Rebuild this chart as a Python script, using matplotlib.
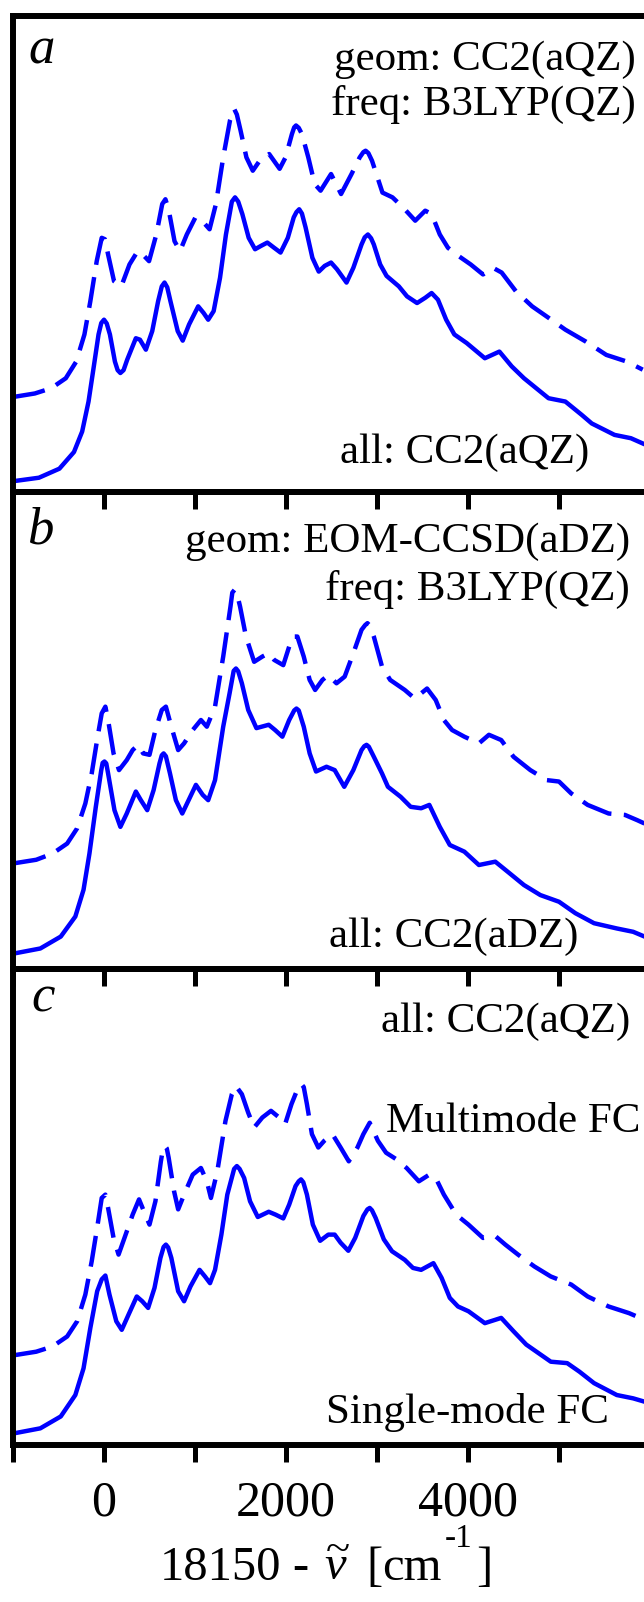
import matplotlib
matplotlib.use("Agg")
import matplotlib.pyplot as plt
from matplotlib.ticker import FixedLocator, FixedFormatter

plt.rcParams['font.family'] = ['Liberation Serif', 'DejaVu Serif']
plt.rcParams['mathtext.fontset'] = 'custom'
plt.rcParams['mathtext.rm'] = 'Liberation Serif'
plt.rcParams['mathtext.it'] = 'Liberation Serif:italic'

# ---- spectra (x in cm^-1, intensity in % of panel height) ----
# panel a
a_solid_x = [-985, -715, -490, -330, -240, -170, -115, -60, -30, 0, 30, 65, 120, 150, 180, 215, 255, 350, 395, 460,
             530, 595, 635, 665, 695, 730, 810, 865, 935, 1035, 1095, 1145, 1205, 1275, 1340, 1405, 1440, 1475,
             1520, 1590, 1660, 1725, 1795, 1870, 1940, 2020, 2085, 2115, 2145, 2175, 2215, 2290, 2360, 2425, 2495,
             2560, 2665, 2740, 2830, 2865, 2900, 2935, 2965, 3035, 3105, 3240, 3330, 3440, 3530, 3600, 3670, 3760,
             3850, 3985, 4185, 4345, 4480, 4615, 4885, 5070, 5250, 5360, 5610, 5790, 5920]
a_solid_y = [2.3, 3.0, 4.9, 8.4, 12.7, 19.0, 26.0, 33.1, 35.5, 36.2, 35.4, 33.1, 27.4, 25.6, 25.0, 25.6, 27.8, 32.3,
             32.0, 29.9, 33.8, 40.1, 43.2, 44.0, 43.0, 40.1, 33.8, 31.8, 35.2, 39.0, 37.6, 36.2, 38.0, 45.0, 54.1,
             61.0, 61.9, 61.0, 58.4, 53.4, 51.0, 51.7, 52.4, 51.3, 50.3, 53.4, 57.7, 58.8, 59.4, 58.5, 55.6, 49.2,
             46.3, 47.5, 48.2, 46.8, 44.0, 47.1, 52.0, 53.5, 54.1, 53.3, 52.0, 47.8, 45.4, 43.2, 41.1, 39.7, 40.8,
             41.8, 40.4, 36.2, 33.1, 31.3, 28.1, 29.5, 26.4, 23.9, 19.7, 19.0, 16.2, 14.4, 12.0, 11.3, 10.2]
a_dash_x = [-985, -760, -580, -420, -305, -215, -150, -80, -25, 10, 45, 110, 190, 280, 370, 440, 495, 575, 640, 675,
            710, 775, 835, 910, 1005, 1095, 1160, 1230, 1310, 1385, 1430, 1460, 1500, 1565, 1635, 1725, 1815, 1930,
            1995, 2065, 2090, 2110, 2140, 2175, 2245, 2315, 2380, 2495, 2605, 2720, 2810, 2850, 2875, 2905, 2945,
            3060, 3170, 3285, 3420, 3530, 3600, 3690, 3780, 3895, 4030, 4165, 4275, 4370, 4525, 4705, 4885, 5070,
            5295, 5520, 5745, 5920]
a_dash_y = [20.0, 20.7, 21.8, 23.9, 27.4, 33.1, 40.1, 48.5, 53.4, 53.1, 49.9, 44.3, 43.2, 47.8, 50.6, 49.6, 48.5,
            54.1, 60.5, 61.5, 59.4, 52.7, 50.6, 54.1, 57.7, 56.6, 55.2, 60.5, 70.3, 78.1, 80.5, 79.3, 76.0, 70.3,
            67.5, 70.0, 71.0, 67.9, 70.3, 75.2, 76.6, 77.0, 76.5, 75.2, 70.3, 64.7, 63.3, 66.8, 62.6, 66.8, 70.3,
            71.4, 71.7, 71.2, 69.6, 62.9, 61.9, 59.8, 57.0, 59.1, 58.4, 54.1, 51.3, 49.6, 47.8, 45.7, 47.1, 46.1,
            42.2, 39.0, 36.6, 34.1, 31.6, 28.8, 27.4, 25.7]

# panel b
b_solid_x = [-975, -700, -475, -315, -225, -160, -90, -30, -15, 5, 25, 45, 115, 180, 250, 350, 405, 475, 545, 610,
             635, 655, 680, 725, 790, 860, 930, 1010, 1085, 1145, 1220, 1310, 1380, 1425, 1450, 1475, 1515, 1585,
             1675, 1810, 1880, 1960, 2035, 2090, 2115, 2140, 2195, 2260, 2330, 2445, 2535, 2640, 2740, 2830, 2860,
             2885, 2910, 2965, 3055, 3120, 3260, 3370, 3485, 3575, 3690, 3800, 3960, 4120, 4300, 4455, 4615, 4795,
             5000, 5180, 5385, 5635, 5815, 5940]
b_solid_y = [3.3, 4.3, 6.8, 11.0, 16.6, 24.2, 34.0, 41.7, 43.2, 43.5, 43.1, 41.0, 33.3, 29.8, 32.6, 37.2, 35.4,
             33.3, 37.5, 43.1, 44.8, 45.2, 44.6, 41.0, 35.4, 32.6, 35.4, 38.6, 36.5, 35.4, 39.6, 50.8, 57.8, 62.5,
             63.0, 62.4, 59.9, 54.3, 50.5, 51.2, 50.1, 48.7, 52.2, 54.2, 54.6, 54.2, 50.8, 45.2, 41.4, 42.4, 41.7,
             38.2, 41.7, 45.9, 46.7, 47.0, 46.6, 44.5, 41.0, 38.2, 36.1, 34.0, 33.7, 34.4, 29.8, 26.0, 24.6, 21.8,
             22.5, 20.1, 17.6, 15.5, 14.1, 11.7, 9.6, 8.5, 7.8, 6.8]
b_dash_x = [-975, -745, -565, -405, -295, -205, -135, -70, -25, 15, 45, 105, 165, 250, 315, 375, 430, 500, 565, 635,
            680, 740, 815, 880, 975, 1065, 1130, 1220, 1310, 1390, 1410, 1435, 1460, 1495, 1560, 1650, 1740, 1810,
            1870, 1970, 2035, 2080, 2125, 2195, 2260, 2320, 2400, 2465, 2555, 2645, 2740, 2830, 2870, 2895, 2920,
            2965, 3055, 3145, 3305, 3415, 3550, 3645, 3735, 3825, 3960, 4120, 4230, 4365, 4500, 4685, 4865, 5000,
            5135, 5315, 5545, 5725, 5860, 5940]
b_dash_y = [22.2, 22.9, 24.2, 26.3, 29.5, 34.7, 41.0, 48.7, 53.6, 55.0, 52.2, 45.2, 41.7, 43.8, 45.9, 47.0, 45.2,
            44.9, 50.1, 54.3, 55.0, 50.8, 45.9, 47.3, 50.1, 52.2, 50.8, 55.0, 65.5, 76.0, 78.9, 79.5, 78.8, 76.0,
            69.7, 64.4, 65.5, 66.2, 64.8, 63.7, 67.6, 69.7, 69.7, 65.5, 60.6, 58.5, 60.6, 61.6, 59.9, 61.3, 66.2,
            71.1, 72.1, 72.5, 72.0, 69.7, 63.4, 60.6, 58.5, 56.7, 58.8, 56.4, 52.2, 50.1, 48.7, 47.3, 49.1, 48.0,
            44.5, 41.7, 39.6, 39.3, 36.8, 34.4, 32.6, 32.3, 31.2, 30.5]

# panel c
c_solid_x = [-975, -700, -475, -315, -225, -150, -75, -25, 15, 60, 135, 195, 270, 360, 420, 485, 555, 620, 655, 680,
             705, 740, 815, 880, 950, 1050, 1110, 1165, 1220, 1290, 1355, 1430, 1460, 1490, 1540, 1605, 1690, 1810,
             1885, 1970, 2035, 2105, 2140, 2165, 2190, 2230, 2295, 2375, 2465, 2535, 2600, 2685, 2760, 2850, 2895,
             2920, 2945, 2985, 3075, 3165, 3305, 3395, 3485, 3620, 3710, 3800, 3890, 4005, 4185, 4365, 4500, 4640,
             4910, 5090, 5225, 5385, 5635, 5815, 5940]
c_solid_y = [2.5, 3.5, 6.0, 10.5, 16.1, 24.6, 32.3, 34.8, 35.6, 31.6, 26.0, 24.2, 27.4, 31.2, 30.2, 28.8, 33.0,
             39.3, 41.6, 42.1, 41.5, 39.3, 32.3, 30.2, 33.3, 36.8, 35.4, 34.0, 36.8, 44.2, 52.6, 58.0, 58.6, 58.0,
             56.1, 51.2, 47.9, 49.0, 48.4, 47.6, 50.5, 54.4, 55.4, 55.8, 55.2, 52.6, 46.3, 42.9, 44.2, 44.2, 42.5,
             40.8, 43.5, 48.1, 49.5, 49.8, 49.3, 47.7, 43.2, 40.7, 38.9, 37.2, 36.8, 38.2, 35.1, 30.9, 29.1, 28.1,
             25.6, 26.7, 23.9, 21.1, 17.5, 17.2, 15.4, 13.0, 10.5, 9.8, 9.1]
c_dash_x = [-975, -745, -565, -405, -295, -205, -135, -70, -25, 15, 45, 105, 160, 225, 315, 385, 430, 500, 565, 625,
            650, 670, 690, 710, 770, 815, 880, 975, 1065, 1130, 1175, 1245, 1335, 1405, 1450, 1515, 1585, 1650, 1740,
            1835, 1925, 1990, 2060, 2125, 2150, 2170, 2195, 2230, 2285, 2355, 2420, 2510, 2600, 2690, 2785, 2850,
            2920, 3010, 3100, 3215, 3325, 3460, 3575, 3645, 3735, 3870, 4005, 4165, 4300, 4410, 4550, 4730, 4910,
            5135, 5315, 5545, 5770, 5940]
c_dash_y = [18.9, 19.6, 20.7, 22.8, 26.0, 31.6, 38.6, 46.3, 51.9, 52.6, 49.8, 43.5, 40.0, 43.5, 48.4, 51.6, 49.5,
            46.3, 51.2, 59.6, 62.4, 62.8, 62.3, 60.4, 53.3, 49.5, 52.6, 56.8, 58.2, 55.4, 51.9, 57.5, 68.1, 73.7,
            75.4, 73.7, 69.8, 66.7, 68.8, 70.2, 68.8, 67.4, 71.6, 74.7, 75.6, 75.8, 75.2, 71.6, 65.3, 62.5, 63.9,
            65.3, 62.5, 59.6, 62.5, 65.3, 67.7, 63.9, 61.4, 60.0, 58.2, 55.4, 56.8, 56.1, 52.6, 48.4, 46.3, 43.5,
            43.9, 42.1, 40.0, 37.5, 35.4, 33.7, 31.2, 29.1, 27.7, 26.3]

tick_pos = [-1000, 0, 1000, 2000, 3000, 4000, 5000, 6000]
tick_lab = ['', '0', '', '2000', '', '4000', '', '']

W, H = 644, 1602
fig = plt.figure(figsize=(W / 100, H / 100), dpi=100)


def px(x, y):
    return x / W, 1 - y / H


# panel boundaries in pixels (top, bottom); right edge runs past the figure
bounds = [(16, 492), (492, 969), (969, 1445)]
left, right = 13, 650
series = [(a_solid_x, a_solid_y, a_dash_x, a_dash_y),
          (b_solid_x, b_solid_y, b_dash_x, b_dash_y),
          (c_solid_x, c_solid_y, c_dash_x, c_dash_y)]

blue = '#0000ff'
for i, ((top, bot), (sx, sy, dx, dy)) in enumerate(zip(bounds, series)):
    ax = fig.add_axes([left / W, 1 - bot / H, (right - left) / W, (bot - top) / H])
    ax.set_facecolor('none')
    ax.plot(sx, sy, color=blue, lw=3.2, solid_joinstyle='round')
    ax.plot(dx, dy, color=blue, lw=3.2, dashes=(7.0, 2.8), dash_joinstyle='round')
    ax.set_xlim(-1000, 6000)
    ax.set_ylim(0, 100)
    ax.set_yticks([])
    ax.spines['right'].set_visible(False)
    for s in ['left', 'top', 'bottom']:
        ax.spines[s].set_linewidth(4.3)
    ax.xaxis.set_major_locator(FixedLocator(tick_pos))
    ax.xaxis.set_major_formatter(FixedFormatter(tick_lab))
    ax.tick_params(axis='x', length=12, width=3.6, labelsize=36, pad=13,
                   top=(i > 0), bottom=(i == 2), labelbottom=(i == 2),
                   direction='out')
    # ticks on the top edge point into the panel
    for t in ax.xaxis.get_major_ticks():
        t.tick2line.set_marker(3)

# panel letters
for lab, (x, y) in zip(['a', 'b', 'c'], [(28, 63), (27, 543), (31, 1012)]):
    fig.text(*px(x, y), lab, fontsize=38, style='italic', va='baseline', ha='left')

txt = dict(fontsize=31, va='baseline')
fig.text(*px(636, 70), 'geom: CC2(aQZ)', ha='right', **txt)
fig.text(*px(636, 115), 'freq: B3LYP(QZ)', ha='right', **txt)
fig.text(*px(340, 463), 'all: CC2(aQZ)', ha='left', **txt)

fig.text(*px(630, 552), 'geom: EOM-CCSD(aDZ)', ha='right', **txt)
fig.text(*px(630, 600), 'freq: B3LYP(QZ)', ha='right', **txt)
fig.text(*px(329, 947), 'all: CC2(aDZ)', ha='left', **txt)

fig.text(*px(630, 1032), 'all: CC2(aQZ)', ha='right', **txt)
fig.text(*px(386, 1132), 'Multimode FC', ha='left', **txt)
fig.text(*px(326, 1423), 'Single-mode FC', ha='left', **txt)

# x label, set piece by piece to follow the wide spacing of the original
r = fig.canvas.get_renderer()
xl = dict(fontsize=35, ha='left', va='baseline')
fig.text(*px(160, 1580), '18150', **xl)
fig.text(*px(292, 1580), '-', **xl)
fig.text(*px(324, 1580), r'$\widetilde{\nu}$', **xl)
fig.text(*px(366, 1580), '[', **xl)
t_cm = fig.text(*px(382, 1580), 'cm', **xl)
x_cm = t_cm.get_window_extent(renderer=r).x1
t_sup = fig.text(x_cm / W + 3 / W, 1 - 1547 / H, '-1', fontsize=24, ha='left', va='baseline')
x_sup = t_sup.get_window_extent(renderer=r).x1
fig.text(x_sup / W + 4 / W, 1 - 1580 / H, ']', **xl)

fig.savefig('out.png', dpi=100)
